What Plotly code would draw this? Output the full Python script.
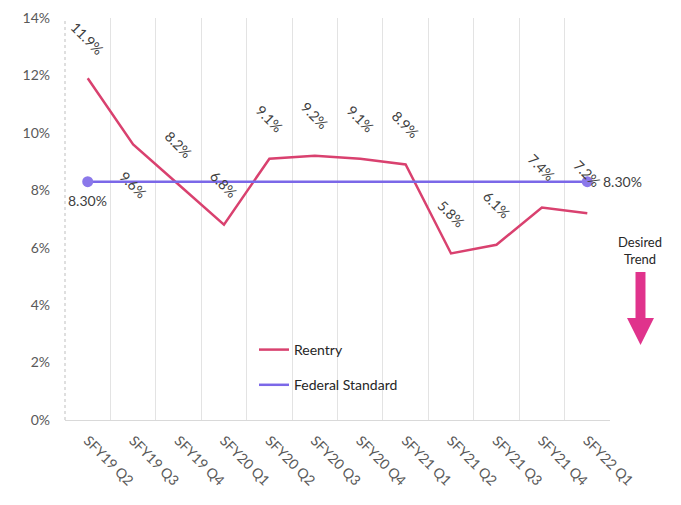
import plotly.graph_objects as go

quarters = ["SFY19 Q2", "SFY19 Q3", "SFY19 Q4", "SFY20 Q1", "SFY20 Q2", "SFY20 Q3",
            "SFY20 Q4", "SFY21 Q1", "SFY21 Q2", "SFY21 Q3", "SFY21 Q4", "SFY22 Q1"]
reentry = [11.9, 9.6, 8.2, 6.8, 9.1, 9.2, 9.1, 8.9, 5.8, 6.1, 7.4, 7.2]
federal_standard = [8.3] * 12
y_ticks = [0, 2, 4, 6, 8, 10, 12, 14]
label_side = ["above", "below", "above", "above", "above", "above",
              "above", "above", "above", "above", "above", "above"]

PINK = "#D9416F"
PURPLE = "#7B68E8"
MARKER = "#8B78EA"
ARROW = "#E0338C"
TXT = "#404040"
FONT = "Lato"

fig = go.Figure()
fig.add_trace(go.Scatter(x=quarters, y=reentry, mode="lines", name="Reentry",
                         line=dict(color=PINK, width=2.5), legendgroup="a"))
fig.add_trace(go.Scatter(x=quarters, y=federal_standard, mode="lines", name="Federal Standard",
                         line=dict(color=PURPLE, width=2.5), legendgroup="b"))
fig.add_trace(go.Scatter(x=[quarters[0], quarters[-1]], y=[federal_standard[0], federal_standard[-1]],
                         mode="markers", marker=dict(color=MARKER, size=11), showlegend=False))

for q, v, side in zip(quarters, reentry, label_side):
    fig.add_annotation(x=q, y=v, text=f"{v:.1f}%", showarrow=False, textangle=45,
                       xanchor="center", yanchor="middle",
                       yshift=40 if side == "above" else -40,
                       font=dict(family=FONT, size=14, color=TXT))

fig.add_annotation(x=quarters[0], y=federal_standard[0], text=f"{federal_standard[0]:.2f}%",
                   showarrow=False, xanchor="center", yshift=-19,
                   font=dict(family=FONT, size=14, color=TXT))
fig.add_annotation(x=quarters[-1], y=federal_standard[-1], text=f"{federal_standard[-1]:.2f}%",
                   showarrow=False, xanchor="left", xshift=14,
                   font=dict(family=FONT, size=14, color=TXT))

# Desired trend note and arrow (decoration, paper coords; page pixels)
L, R, T, B = 65, 610, 18, 420
def px(x):
    return (x - L) / (R - L)
def py(y):
    return (B - y) / (B - T)

fig.add_annotation(xref="paper", yref="paper", x=px(640), y=py(250), text="Desired<br>Trend",
                   xanchor="center", yanchor="middle",
                   showarrow=False, font=dict(family=FONT, size=13, color="#262626"))
pts = [(635.5, 272), (645.5, 272), (645.5, 318), (654, 318), (640.5, 345), (627, 318), (635.5, 318)]
path = "M " + " L ".join(f"{px(a):.4f},{py(b):.4f}" for a, b in pts) + " Z"
fig.add_shape(type="path", xref="paper", yref="paper", path=path,
              fillcolor=ARROW, line=dict(width=0))
# dotted left axis
fig.add_shape(type="line", xref="paper", yref="paper", x0=0, x1=0, y0=0, y1=1,
              line=dict(color="#BFBFBF", width=1, dash="dot"))

# page body has an 8px margin, so the figure is 8px smaller and margins shifted
fig.update_layout(
    width=673, height=497,
    margin=dict(l=57, r=71, t=10, b=85, autoexpand=False),
    paper_bgcolor="white", plot_bgcolor="white",
    font=dict(family=FONT, size=14, color="#595959"),
    legend=dict(x=px(254), y=py(334), xanchor="left", yanchor="top",
                bgcolor="rgba(0,0,0,0)", tracegroupgap=14,
                font=dict(family=FONT, size=14, color="#262626")),
    xaxis=dict(type="category", tickson="boundaries", showgrid=True, gridcolor="#E3E3E3",
               gridwidth=1, tickangle=45, ticks="", showline=True, linecolor="#D9D9D9",
               automargin=False, ticklabelstandoff=6,
               tickfont=dict(family=FONT, size=14, color="#595959"), range=[-0.5, 11.5]),
    yaxis=dict(range=[0, 14], tickvals=y_ticks, ticktext=[f"{t}%" for t in y_ticks],
               showgrid=False, zeroline=False, showline=False, ticks="",
               automargin=False, ticklabelstandoff=14,
               tickfont=dict(family=FONT, size=14, color="#595959")),
    showlegend=True,
)

fig.write_html("out.html")
